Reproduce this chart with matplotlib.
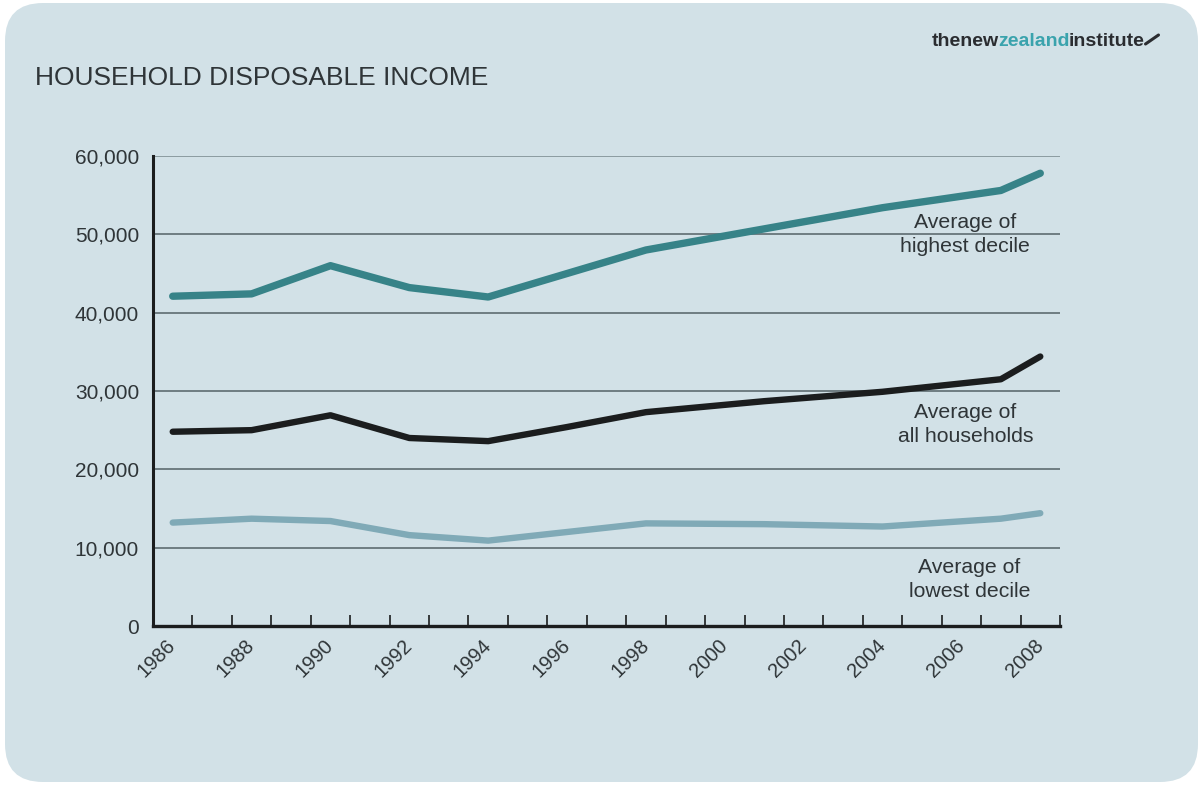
import matplotlib
matplotlib.use("Agg")
import matplotlib.pyplot as plt
from matplotlib.patches import FancyBboxPatch
from matplotlib.lines import Line2D
import numpy as np

# survey years and average disposable income ($)
years = [1986, 1988, 1990, 1992, 1994, 1996, 1998, 2001, 2004, 2007, 2008]
highest_decile = [42100, 42400, 46000, 43200, 42000, 45000, 48000, 50700, 53400, 55600, 57800]
all_households = [24800, 25000, 26900, 24000, 23600, 25400, 27300, 28700, 29900, 31500, 34400]
lowest_decile = [13200, 13700, 13400, 11600, 10900, 12000, 13100, 13000, 12700, 13700, 14400]

year_labels = list(range(1986, 2009, 2))
y_ticks = [0, 10000, 20000, 30000, 40000, 50000, 60000]

panel_col = "#D2E1E7"
text_col = "#2f3538"
teal = "#378388"
dark = "#1b1d1e"
pale = "#80AAB7"

plt.rcParams["font.family"] = ["Liberation Sans", "DejaVu Sans"]

fig = plt.figure(figsize=(12.03, 7.85), dpi=100, facecolor="white")

# rounded background card
card = FancyBboxPatch((0.05, 0.03), 11.93, 7.79,
                      boxstyle="round,pad=0,rounding_size=0.38",
                      transform=fig.dpi_scale_trans,
                      facecolor=panel_col, edgecolor="none", zorder=-10)
fig.patches.append(card)

ax = fig.add_axes([153 / 1203, 1 - 626 / 785, (1060 - 153) / 1203, (626 - 156) / 785])
ax.set_facecolor("none")
ax.set_zorder(1)

ax.plot(years, highest_decile, color=teal, lw=5.3, solid_capstyle="round", solid_joinstyle="round", zorder=3)
ax.plot(years, all_households, color=dark, lw=4.6, solid_capstyle="round", solid_joinstyle="round", zorder=3)
ax.plot(years, lowest_decile, color=pale, lw=4.6, solid_capstyle="round", solid_joinstyle="round", zorder=3)

ax.set_xlim(1985.5, 2008.5)
ax.set_ylim(0, 60000)

# horizontal rules
for v in y_ticks[1:]:
    ax.axhline(v, color="#6f7d82" if v < 60000 else "#8c9ca1", lw=1.4, zorder=1)

for s in ["top", "right"]:
    ax.spines[s].set_visible(False)
ax.spines["left"].set_color(dark)
ax.spines["left"].set_linewidth(2.2)
ax.spines["bottom"].set_color(dark)
ax.spines["bottom"].set_linewidth(2.4)

ax.set_yticks(y_ticks)
ax.set_yticklabels([f"{v:,}" for v in y_ticks])
ax.tick_params(axis="y", length=0, pad=10, labelsize=15, labelcolor=text_col)

ax.set_xticks(year_labels)
ax.set_xticklabels([str(y) for y in year_labels], rotation=45, ha="right", va="center",
                   rotation_mode="anchor")
ax.tick_params(axis="x", which="major", length=0, pad=12, labelsize=14.5, labelcolor=text_col)
ax.set_xticks(np.arange(1986.5, 2009, 1), minor=True)
ax.tick_params(axis="x", which="minor", direction="in", length=8, width=1.2, color=dark)

# series labels
lab_kw = dict(ha="center", va="center", fontsize=15.3, color=text_col, linespacing=1.35)
ax.text(2006.1, 50000, "Average of\nhighest decile", **lab_kw)
ax.text(2006.1, 25700, "Average of\nall households", **lab_kw)
ax.text(2006.2, 5900, "Average of\nlowest decile", **lab_kw)

fig.text(35 / 1203, 1 - 78 / 785, "HOUSEHOLD DISPOSABLE INCOME", ha="left", va="center",
         fontsize=19, color=text_col)

# institute wordmark
t1 = fig.text(932 / 1203, 1 - 46 / 785, "thenew", ha="left", va="baseline",
              fontsize=14, fontweight="bold", color="#2a2c30")
t2 = fig.text(0, 0, "zealand", fontsize=14, fontweight="bold", color="#3aa3ad",
              va="baseline", ha="left")
t3 = fig.text(0, 0, "institute", fontsize=14, fontweight="bold", color="#2a2c30",
              va="baseline", ha="left")
fig.canvas.draw()
r = fig.canvas.get_renderer()
bb1 = t1.get_window_extent(r)
t2.set_position(((bb1.x1 - 1) / fig.bbox.width, t1.get_position()[1]))
bb2 = t2.get_window_extent(r)
t3.set_position(((bb2.x1 - 1) / fig.bbox.width, t1.get_position()[1]))
bb3 = t3.get_window_extent(r)
x0 = (bb3.x1 + 1) / fig.bbox.width
fig.add_artist(Line2D([x0, x0 + 13 / 1203], [1 - 44 / 785, 1 - 35 / 785],
                      color="#2a2c30", lw=2.2, solid_capstyle="round"))

fig.savefig("out.png", dpi=100, facecolor="white")
